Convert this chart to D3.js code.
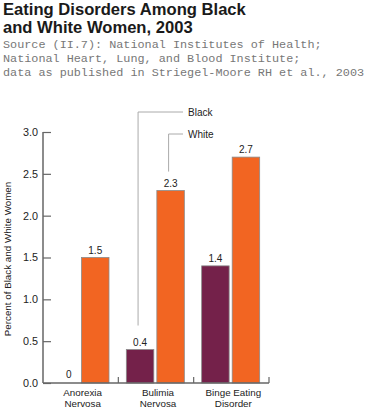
<!DOCTYPE html>
<html><head><meta charset="utf-8">
<script src="https://cdn.jsdelivr.net/npm/d3@7"></script>
<style>body{margin:0;background:#fff;}svg{display:block;}</style>
</head><body>
<script>
const categories = [["Anorexia","Nervosa"],["Bulimia","Nervosa"],["Binge Eating","Disorder"]];
const seriesNames = ["Black","White"];
const blackValues = [0, 0.4, 1.4];
const whiteValues = [1.5, 2.3, 2.7];
const yTicks = [0, 0.5, 1.0, 1.5, 2.0, 2.5, 3.0];
const titleLines = ["Eating Disorders Among Black","and White Women, 2003"];
const sourceLines = ["Source (II.7): National Institutes of Health;","National Heart, Lung, and Blood Institute;","data as published in Striegel-Moore RH et al., 2003"];
const yTitle = "Percent of Black and White Women";

const W=370,H=410;
const svg=d3.select("body").append("svg").attr("width",W).attr("height",H);
const colors={Black:"#74214a",White:"#f26522"};
const sans="Liberation Sans, Arial, Helvetica, sans-serif";

svg.append("g").selectAll("text").data(titleLines).join("text")
  .attr("x",3).attr("y",(d,i)=>15+i*18).attr("font-family",sans).attr("font-weight","bold")
  .attr("font-size",16.6).attr("fill","#1a1a1a").text(d=>d);
svg.append("g").selectAll("text").data(sourceLines).join("text")
  .attr("x",3).attr("y",(d,i)=>48+i*14).attr("font-family","Liberation Mono, Courier New, monospace")
  .attr("font-size",11.8).attr("fill","#777").text(d=>d);

const catKeys=categories.map(c=>c.join(" "));
const x0=d3.scaleBand().domain(catKeys).range([43,269]);
const x1=d3.scaleBand().domain(seriesNames).range([8,66]).paddingInner(0.1);
const y=d3.scaleLinear().domain([0,3]).range([383,132]);

const data=catKeys.map((k,i)=>({key:k,vals:[{s:"Black",v:blackValues[i]},{s:"White",v:whiteValues[i]}]}));

// y axis
const yAxis=d3.axisRight(y).tickValues(yTicks).tickSize(8).tickFormat(d3.format(".1f"));
const ga=svg.append("g").attr("transform","translate(43,0)").call(yAxis);
ga.select(".domain").attr("d",`M0,${y(3)}V${y(0)}`).attr("stroke","#666").attr("stroke-width",1.5);
ga.selectAll(".tick line").attr("stroke","#666").attr("stroke-width",1.2);
ga.selectAll(".tick text").attr("x",-5).attr("text-anchor","end").attr("font-family",sans).attr("font-size",10.8).attr("fill","#222");

svg.append("text").attr("transform","translate(11,259) rotate(-90)").attr("text-anchor","middle")
  .attr("font-family",sans).attr("font-size",9.8).attr("fill","#222").text(yTitle);

// bars
const g=svg.append("g");
const grp=g.selectAll("g").data(data).join("g").attr("transform",d=>`translate(${x0(d.key)},0)`);
grp.selectAll("rect").data(d=>d.vals.filter(v=>v.v>0)).join("rect")
  .attr("x",d=>x1(d.s)).attr("width",x1.bandwidth())
  .attr("y",d=>y(d.v)).attr("height",d=>y(0)-y(d.v))
  .attr("fill",d=>colors[d.s]).attr("stroke","#8a8a8a").attr("stroke-width",0.8);
grp.selectAll("text").data(d=>d.vals).join("text")
  .attr("x",d=>x1(d.s)+x1.bandwidth()/2+(d.v===0?4:0)).attr("y",d=>y(d.v)-(d.v===0?5:4))
  .attr("text-anchor","middle").attr("font-family",sans).attr("font-size",10).attr("fill","#222")
  .text(d=>d3.format("")(d.v));

// x axis
const gx=svg.append("g");
gx.append("line").attr("x1",43).attr("x2",269).attr("y1",y(0)).attr("y2",y(0)).attr("stroke","#666").attr("stroke-width",1.5);
const tickXs=catKeys.map(k=>x0(k)+x0.bandwidth());
gx.selectAll(".tk").data(tickXs).join("line").attr("x1",d=>d).attr("x2",d=>d)
  .attr("y1",y(0)).attr("y2",y(0)-6).attr("stroke","#666").attr("stroke-width",1.2);
const lab=gx.selectAll(".cl").data(categories).join("text")
  .attr("text-anchor","middle").attr("font-family",sans).attr("font-size",9.8).attr("fill","#222");
lab.each(function(d,i){
  const cx=x0(catKeys[i])+x0.bandwidth()/2+2;
  d3.select(this).selectAll("tspan").data(d).join("tspan").attr("x",cx).attr("y",(t,j)=>396+j*11).text(t=>t);
});

// legend leaders
const legendCat=catKeys[1];
const leaders=[{s:"Black",v:blackValues[1],top:112,gap:24},{s:"White",v:whiteValues[1],top:134,gap:19}];
leaders.forEach(l=>{
  const lx=x0(legendCat)+x1(l.s)+x1.bandwidth()/2-2;
  svg.append("path").attr("d",`M${lx},${y(l.v)-l.gap}V${l.top}H183`).attr("fill","none").attr("stroke","#aaa").attr("stroke-width",1);
  svg.append("text").attr("x",188).attr("y",l.top+3.5).attr("font-family",sans).attr("font-size",10).attr("fill","#222").text(l.s);
});
</script>
</body></html>
